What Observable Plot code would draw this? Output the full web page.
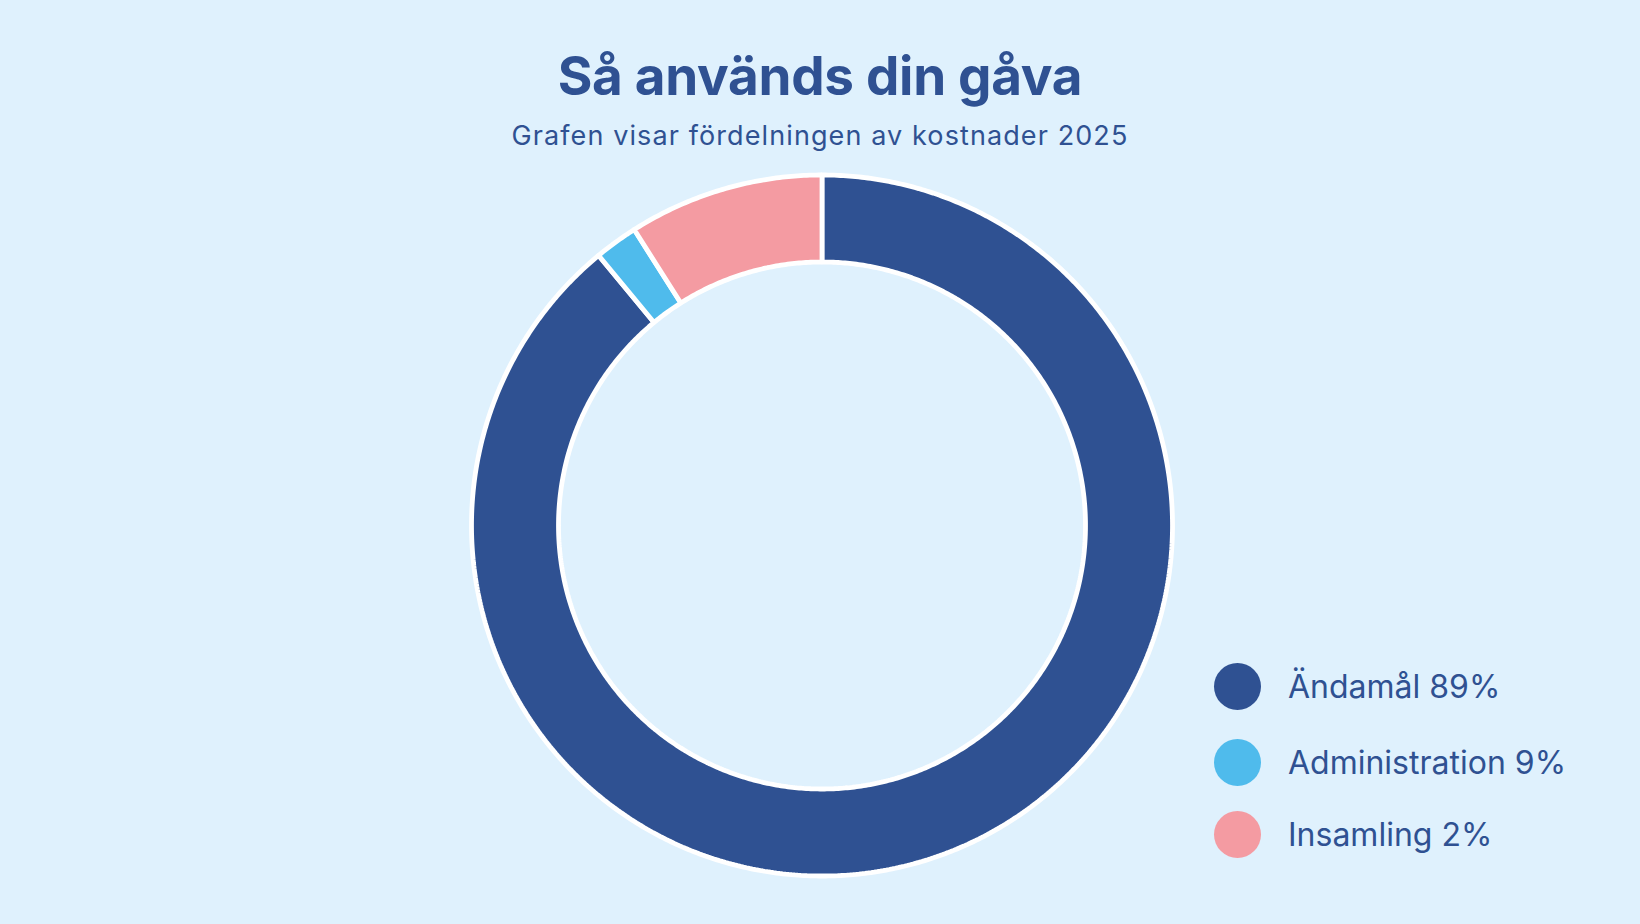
<!DOCTYPE html>
<html>
<head>
<meta charset="utf-8">
<script src="https://cdn.jsdelivr.net/npm/d3@7"></script>
<script src="https://cdn.jsdelivr.net/npm/@observablehq/plot@0.6"></script>
<style>
  html, body { margin: 0; padding: 0; background: #dff1fd; }
  body { width: 1640px; height: 924px; position: relative; overflow: hidden;
         font-family: Inter, "Noto Sans", sans-serif; color: #2f5192; }
  #title { position: absolute; left: 0; width: 1640px; top: 50px; text-align: center;
           font-weight: 700; font-size: 53px; line-height: 1; letter-spacing: -0.3px; }
  #subtitle { position: absolute; left: 0; width: 1640px; top: 122px; text-align: center;
              font-weight: 400; font-size: 27px; line-height: 1; letter-spacing: 1.1px; }
  #chart { position: absolute; left: 0; top: 160px; }
  .row { position: absolute; left: 1214px; height: 47px; display: flex; align-items: center; }
  .dot { width: 47px; height: 47px; border-radius: 50%; }
  .lab { margin-left: 27px; font-size: 32px; line-height: 47px; white-space: nowrap; }
</style>
</head>
<body>
<div id="title"></div>
<div id="subtitle"></div>
<div id="chart"></div>
<div id="legend"></div>
<script>
// ---- data ----
const titleText = "Så används din gåva";
const subtitleText = "Grafen visar fördelningen av kostnader 2025";
// slices as drawn, clockwise from 12 o'clock
const sliceNames = ["Ändamål", "Administration", "Insamling"];
const sliceValues = [89, 2, 9];
const sliceColors = ["#2f5192", "#4fbbec", "#f49ba2"];
// legend as printed
const legendLabels = ["Ändamål 89%", "Administration 9%", "Insamling 2%"];
const legendColors = ["#2f5192", "#4fbbec", "#f49ba2"];

// ---- layout ----
const W = 1640, H = 764, cx = 821.5, cy = 365;
const R = 350.5, r0 = 263.5;
const legendTops = [663, 739, 811];

document.getElementById("title").textContent = titleText;
document.getElementById("subtitle").textContent = subtitleText;

const slices = sliceNames.map((name, i) => ({name, value: sliceValues[i]}));
const arcs = d3.pie().sort(null).value(d => d.value)(slices);

const pts = [];
arcs.forEach(a => {
  const name = a.data.name;
  const span = a.endAngle - a.startAngle;
  const n = Math.max(4, Math.ceil(span / (Math.PI / 360)));
  const first = {name, x: R * Math.sin(a.startAngle), y: R * Math.cos(a.startAngle)};
  for (let i = 0; i <= n; i++) {
    const t = a.startAngle + span * i / n;
    pts.push({name, x: R * Math.sin(t), y: R * Math.cos(t)});
  }
  for (let i = n; i >= 0; i--) {
    const t = a.startAngle + span * i / n;
    pts.push({name, x: r0 * Math.sin(t), y: r0 * Math.cos(t)});
  }
  pts.push(first);
});

const chart = Plot.plot({
  width: W,
  height: H,
  margin: 0,
  style: {background: "transparent", overflow: "visible"},
  x: {domain: [-cx, W - cx], axis: null},
  y: {domain: [-(H - cy), cy], axis: null},
  color: {domain: sliceNames, range: sliceColors},
  marks: [
    Plot.line(pts, {x: "x", y: "y", z: "name", fill: "name", stroke: "white",
                    strokeWidth: 4.8, strokeLinejoin: "miter", curve: "linear"})
  ]
});
document.getElementById("chart").appendChild(chart);

const legend = document.getElementById("legend");
legendLabels.forEach((lab, i) => {
  const row = document.createElement("div");
  row.className = "row";
  row.style.top = legendTops[i] + "px";
  const dot = document.createElement("div");
  dot.className = "dot";
  dot.style.background = legendColors[i];
  const t = document.createElement("span");
  t.className = "lab";
  t.textContent = lab;
  row.appendChild(dot);
  row.appendChild(t);
  legend.appendChild(row);
});
</script>
</body>
</html>
